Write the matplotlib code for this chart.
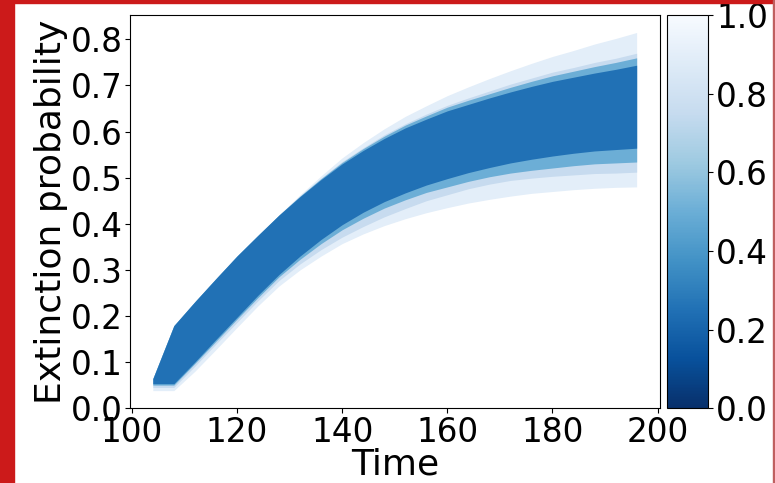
import matplotlib
matplotlib.use("Agg")
import matplotlib.pyplot as plt
import numpy as np
from matplotlib.patches import Rectangle
from matplotlib.cm import ScalarMappable
from matplotlib.colors import Normalize

# time points and quantile band edges
times = [104, 108, 112, 116, 120, 124, 128, 132, 136, 140, 144, 148,
         152, 156, 160, 164, 168, 172, 176, 180, 184, 188, 192, 196]

outer_lo = [.038, .038, .080, .127, .175, .222, .265, .300, .330, .357, .378, .396,
            .411, .424, .435, .445, .453, .460, .466, .470, .474, .477, .479, .480]
outer_hi = [.064, .179, .231, .281, .330, .375, .419, .463, .504, .543, .576, .606,
            .633, .656, .678, .697, .715, .732, .748, .763, .776, .790, .802, .815]
light_lo = [.045, .045, .091, .139, .186, .233, .277, .313, .344, .371, .394, .415,
            .433, .450, .463, .476, .486, .494, .499, .503, .506, .509, .510, .512]
light_hi = [.064, .179, .231, .281, .330, .375, .419, .461, .499, .535, .565, .593,
            .617, .638, .657, .673, .688, .703, .716, .729, .739, .750, .759, .770]
mid_lo = [.050, .050, .097, .145, .193, .240, .285, .323, .357, .387, .412, .434,
          .452, .468, .480, .492, .502, .510, .516, .521, .526, .530, .532, .534]
mid_hi = [.064, .179, .231, .281, .330, .375, .419, .460, .498, .533, .563, .590,
          .614, .634, .653, .668, .682, .696, .709, .721, .731, .741, .750, .760]
core_lo = [.053, .053, .100, .149, .197, .245, .290, .330, .366, .398, .425, .448,
           .467, .484, .498, .511, .522, .532, .540, .547, .553, .558, .561, .564]
core_hi = [.064, .179, .231, .281, .330, .375, .419, .459, .496, .530, .559, .585,
           .608, .627, .645, .659, .673, .686, .698, .709, .718, .727, .735, .744]

band_levels = [0.9, 0.75, 0.5, 0.25]

TICK_FS = 23.5
LABEL_FS = 26
fig = plt.figure(figsize=(7.75, 4.83), dpi=100)
ax = fig.add_axes([0.168, 0.155, 0.684, 0.814])
cax = fig.add_axes([0.861, 0.155, 0.053, 0.814])

cmap = plt.get_cmap("Blues_r")
bands = [(outer_lo, outer_hi), (light_lo, light_hi), (mid_lo, mid_hi), (core_lo, core_hi)]
for (lo, hi), lev in zip(bands, band_levels):
    ax.fill_between(times, lo, hi, color=cmap(lev), linewidth=0)

ax.set_xlim(99.7, 200.5)
ax.set_ylim(0, 0.853)
ax.set_xticks([100, 120, 140, 160, 180, 200])
yt = np.arange(0, 0.81, 0.1)
ax.set_yticks(yt)
ax.set_yticklabels([f"{v:.1f}" for v in yt])
ax.tick_params(labelsize=TICK_FS, pad=2)
ax.set_xlabel("Time", fontsize=LABEL_FS, labelpad=-1)
ax.set_ylabel("Extinction probability", fontsize=LABEL_FS, labelpad=2)

sm = ScalarMappable(norm=Normalize(0, 1), cmap=cmap)
cb = fig.colorbar(sm, cax=cax)
cb.set_ticks([0, 0.2, 0.4, 0.6, 0.8, 1.0])
cb.ax.tick_params(labelsize=TICK_FS, pad=2)

# red frame of the screenshot
red = "#cc1a1a"
fig.patches.append(Rectangle((0, 0), 14 / 775, 1, transform=fig.transFigure, color=red, zorder=0))
fig.patches.append(Rectangle((0, 1 - 3 / 483), 1, 3 / 483, transform=fig.transFigure, color=red, zorder=0))
fig.patches.append(Rectangle((1 - 2 / 775, 0), 2 / 775, 1, transform=fig.transFigure, color="#c06060", zorder=0))

fig.savefig("out.png", dpi=100)
